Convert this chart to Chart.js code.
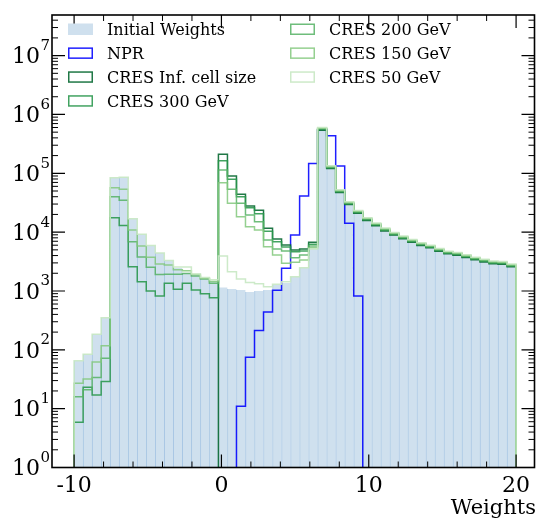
<!DOCTYPE html>
<html>
<head>
<meta charset="utf-8">
<script src="https://cdn.jsdelivr.net/npm/chart.js@4.4.1/dist/chart.umd.min.js"></script>
<style>
  html, body { margin: 0; padding: 0; background: #fff; }
  #wrap { width: 538px; height: 523px; }
</style>
</head>
<body>
<div id="wrap"><canvas id="chart" width="538" height="523"></canvas></div>
<script>
// histogram binning: 49 bins between -10 and 20
const binLow = -10;
const binHigh = 20;
const nBins = 49;

const xTickMajor = [-10, 0, 10, 20];
const xTickMinor = [-8, -6, -4, -2, 2, 4, 6, 8, 12, 14, 16, 18];
const yDecades = [0, 1, 2, 3, 4, 5, 6, 7];

const labels = ["Initial Weights", "NPR", "CRES Inf. cell size", "CRES 300 GeV", "CRES 200 GeV", "CRES 150 GeV", "CRES 50 GeV"];

const initialWeights = [65, 84, 183, 351, 84000, 85300, 16900, 9170, 5900, 4400,
  3300, 2450, 2050, 1870, 1650, 1490, 1150, 1080, 1040, 960,
  1000, 1040, 1260, 1370, 1750, 2480, 5160, 600000, 134000, 52400,
  32800, 23300, 17600, 14300, 11700, 9900, 8560, 7490, 6590, 6010,
  5270, 4750, 4510, 4120, 3760, 3470, 3220, 3170, 2860];

const npr = [0, 0, 0, 0, 0, 0, 0, 0, 0, 0,
  0, 0, 0, 0, 0, 0, 0, 0, 11, 75,
  214, 439, 1026, 2430, 8930, 41000, 147000, 550000, 435000, 133000,
  14100, 820, 0, 0, 0, 0, 0, 0, 0, 0,
  0, 0, 0, 0, 0, 0, 0, 0, 0];

const cresInf = [0, 0, 0, 0, 0, 0, 0, 0, 0, 0, 0, 0, 0, 0, 0, 0,
  210000, 89800, 43900, 27700, 23500, 11600, 7640, 6040, 4960, 5160, 6700,
  540000, 120600, 47200, 29500, 21000, 15800, 12900, 10500, 8910, 7700, 6740,
  5930, 5410, 4740, 4280, 4060, 3710, 3380, 3120, 2900, 2850, 2570];

const cres300 = [5.9, 23, 17, 29, 17600, 13000, 2580, 1440, 1000, 820, 1350, 1070, 1350, 1040, 900, 770,
  163000, 78900, 40000, 26000, 20600, 10400, 6870, 5580, 4650, 4770, 6200,
  555000, 124000, 48500, 30300, 21600, 16300, 13200, 10800, 9160, 7920, 6930,
  6100, 5560, 4870, 4390, 4170, 3810, 3480, 3210, 2980, 2930, 2650];

const cres200 = [16, 21, 34, 72, 40000, 34700, 6870, 3780, 2530, 1900, 1920, 1920, 1990, 1800, 1600, 1350,
  114000, 53400, 30900, 19500, 15000, 7340, 5160, 4770, 3670, 4080, 5800,
  570000, 127300, 49800, 31200, 22100, 16700, 13600, 11100, 9400, 8130, 7120,
  6260, 5710, 5010, 4510, 4280, 3910, 3570, 3300, 3060, 3010, 2720];

const cres150 = [27, 32, 62, 117, 56800, 53400, 10900, 5800, 3750, 2880, 2760, 2300, 2200, 1900, 1650, 1450,
  69000, 30900, 18300, 12400, 10900, 5650, 4080, 2950, 3070, 3360, 5430,
  585000, 130600, 51100, 32000, 22700, 17200, 13900, 11400, 9650, 8350, 7300,
  6430, 5860, 5140, 4630, 4400, 4020, 3670, 3380, 3140, 3090, 2790];

const cres50 = [65, 84, 183, 351, 84000, 85300, 16900, 9170, 5900, 4400, 3300, 2550, 2550, 1950, 1700, 1550,
  3930, 2120, 1600, 1400, 1330, 1180, 1300, 1440, 1750, 2480, 5160,
  600000, 134000, 52400, 32800, 23300, 17600, 14300, 11700, 9900, 8560, 7490,
  6590, 6010, 5270, 4750, 4510, 4120, 3760, 3470, 3220, 3170, 2860];

const edges = Array.from({ length: nBins + 1 }, (_, i) => binLow + (i * (binHigh - binLow)) / nBins);

// empty bins can't sit on a log axis, so put them far below it (they get clipped)
const belowAxis = 1e-3;

// step outline like histtype="step": up from 0 at first edge, down to 0 at last edge
function stepPoints(values) {
  const pts = [{ x: edges[0], y: belowAxis }];
  values.forEach((v, i) => pts.push({ x: edges[i], y: v > 0 ? v : belowAxis }));
  pts.push({ x: edges[nBins], y: belowAxis });
  return pts;
}

function stepDataset(label, values, color, order) {
  return {
    type: "line",
    label: label,
    data: stepPoints(values),
    borderColor: color,
    borderWidth: 1.5,
    stepped: true,
    pointRadius: 0,
    fill: false,
    order: order,
  };
}

const serif = '"DejaVu Serif", "Liberation Serif", serif';

// ticks, frame, labels and legend drawn the matplotlib way
const mplAxes = {
  id: "mplAxes",
  afterDatasetsDraw(chart) {
    const { ctx, chartArea: a, scales } = chart;
    const xs = scales.x;
    const ys = scales.y;
    ctx.save();
    ctx.strokeStyle = "#000";

    // x ticks (bottom and top, pointing inward)
    const xTick = (v, len, w) => {
      const px = xs.getPixelForValue(v);
      ctx.lineWidth = w;
      ctx.beginPath();
      ctx.moveTo(px, a.bottom);
      ctx.lineTo(px, a.bottom - len);
      ctx.moveTo(px, a.top);
      ctx.lineTo(px, a.top + len);
      ctx.stroke();
    };
    xTickMajor.forEach((v) => xTick(v, 13, 1.2));
    xTickMinor.forEach((v) => xTick(v, 6, 1));

    // y ticks (left and right)
    const yTick = (v, len, w) => {
      const py = ys.getPixelForValue(v);
      if (py < a.top - 0.5) return;
      ctx.lineWidth = w;
      ctx.beginPath();
      ctx.moveTo(a.left, py);
      ctx.lineTo(a.left + len, py);
      ctx.moveTo(a.right, py);
      ctx.lineTo(a.right - len, py);
      ctx.stroke();
    };
    yDecades.forEach((n) => {
      yTick(Math.pow(10, n), 13, 1.2);
      for (let k = 2; k <= 9; k++) yTick(k * Math.pow(10, n), 6, 1);
    });

    // frame
    ctx.lineWidth = 1.6;
    ctx.strokeRect(a.left, a.top, a.right - a.left, a.bottom - a.top);

    // tick labels
    ctx.fillStyle = "#000";
    ctx.textBaseline = "alphabetic";
    ctx.textAlign = "center";
    ctx.font = "22px " + serif;
    xTickMajor.forEach((v) => ctx.fillText(String(v), xs.getPixelForValue(v), 492));

    ctx.textAlign = "right";
    yDecades.forEach((n) => {
      const py = ys.getPixelForValue(Math.pow(10, n));
      ctx.font = "15px " + serif;
      const ew = ctx.measureText(String(n)).width;
      ctx.fillText(String(n), 50, py - 5.5);
      ctx.font = "22px " + serif;
      ctx.fillText("10", 50 - ew - 0.5, py + 7.7);
    });

    ctx.font = "21px " + serif;
    ctx.fillText("Weights", 536, 514);

    // legend, two columns
    ctx.textAlign = "left";
    ctx.font = "16px " + serif;
    chart.data.datasets.forEach((ds, i) => {
      const col = i < 4 ? 0 : 1;
      const row = i < 4 ? i : i - 4;
      const sx = col ? 290 : 68;
      const tx = col ? 329 : 107;
      const base = 35 + row * 23.9;
      if (ds.type === "bar") {
        ctx.fillStyle = ds.backgroundColor;
        ctx.fillRect(sx, base - 11.5, 25, 11.5);
      } else {
        ctx.strokeStyle = ds.borderColor;
        ctx.lineWidth = 1.5;
        ctx.strokeRect(sx + 0.75, base - 10.75, 23.5, 10);
      }
      ctx.fillStyle = "#000";
      ctx.fillText(ds.label, tx, base);
    });
    ctx.restore();
  },
};

new Chart(document.getElementById("chart"), {
  type: "bar",
  data: {
    datasets: [
      {
        type: "bar",
        label: labels[0],
        data: initialWeights.map((v, i) => ({ x: (edges[i] + edges[i + 1]) / 2, y: v })),
        backgroundColor: "#cfe0ee",
        borderColor: "#a9c7e4",
        borderWidth: { left: 1, right: 0, top: 0, bottom: 0 },
        barPercentage: 1,
        categoryPercentage: 1,
        order: 7,
      },
      stepDataset(labels[1], npr, "rgba(0, 0, 255, 0.88)", 6),
      stepDataset(labels[2], cresInf, "rgba(8, 105, 50, 0.9)", 5),
      stepDataset(labels[3], cres300, "rgba(40, 150, 75, 0.88)", 4),
      stepDataset(labels[4], cres200, "rgba(85, 178, 100, 0.85)", 3),
      stepDataset(labels[5], cres150, "rgba(130, 200, 125, 0.85)", 2),
      stepDataset(labels[6], cres50, "rgba(200, 232, 195, 0.9)", 1),
    ],
  },
  options: {
    responsive: false,
    animation: false,
    layout: { padding: { top: 15, right: 3.5, left: 0, bottom: 0 } },
    plugins: { legend: { display: false }, tooltip: { enabled: false } },
    scales: {
      x: {
        type: "linear",
        min: -11.5,
        max: 21.25,
        offset: false,
        grid: { display: false },
        border: { display: false },
        ticks: { display: false },
        afterFit(s) { s.height = 55.5; },
      },
      y: {
        type: "logarithmic",
        min: 1,
        max: 4.9e7,
        grid: { display: false },
        border: { display: false },
        ticks: { display: false },
        afterFit(s) { s.width = 52; },
      },
    },
  },
  plugins: [mplAxes],
});
</script>
</body>
</html>
